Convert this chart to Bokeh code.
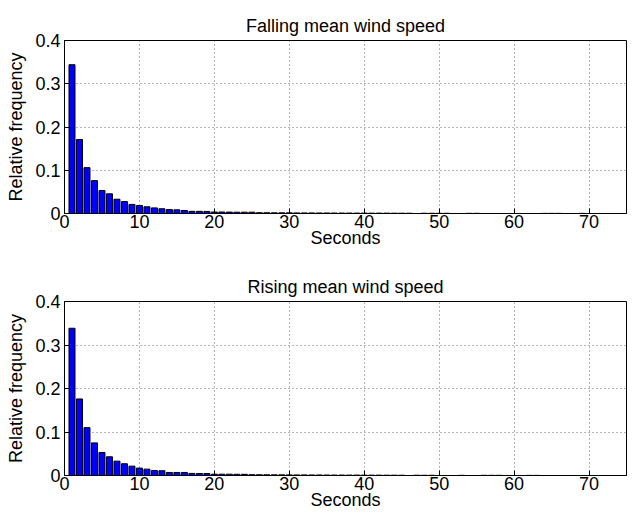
from bokeh.plotting import figure
from bokeh.layouts import column
from bokeh.models import FixedTicker, Range1d
from bokeh.embed import file_html
from bokeh.resources import INLINE

# ---- data ----
falling_seconds = list(range(1, 47)) + [48, 49, 50, 51, 54, 55, 64, 65, 66, 69]
falling_freq = [0.344, 0.171, 0.106, 0.076, 0.053, 0.0455, 0.033, 0.0275, 0.021, 0.0185,
                0.0155, 0.013, 0.011, 0.009, 0.0085, 0.007, 0.005, 0.005, 0.0048, 0.0035,
                0.0035, 0.0032, 0.003, 0.003, 0.003, 0.0018, 0.0017, 0.0016, 0.0015, 0.0015,
                0.0014, 0.0013, 0.0013, 0.0012, 0.0012, 0.0011, 0.001, 0.001, 0.0009, 0.0009,
                0.0008, 0.0008, 0.0008, 0.0007, 0.0007, 0.0006,
                0.0006, 0.0005, 0.0005, 0.0005, 0.0004, 0.0004, 0.0003, 0.0003, 0.0003, 0.0003]

rising_seconds = list(range(1, 46)) + [47, 48, 49, 53, 56, 57, 58, 62, 63]
rising_freq = [0.3385, 0.176, 0.110, 0.075, 0.053, 0.043, 0.033, 0.027, 0.0215, 0.017,
               0.0146, 0.0115, 0.011, 0.007, 0.007, 0.007, 0.0048, 0.0046, 0.0045, 0.003,
               0.003, 0.003, 0.0028, 0.0027, 0.0018, 0.0017, 0.0016, 0.0015, 0.0015, 0.0014,
               0.0013, 0.0013, 0.0012, 0.0012, 0.0011, 0.001, 0.001, 0.0009, 0.0009, 0.0008,
               0.0008, 0.0008, 0.0007, 0.0007, 0.0006,
               0.0006, 0.0005, 0.0005, 0.0004, 0.0004, 0.0004, 0.0004, 0.0003, 0.0003]

x_ticks = [0, 10, 20, 30, 40, 50, 60, 70]
y_ticks = [0, 0.1, 0.2, 0.3, 0.4]
y_tick_labels = ["0", "0.1", "0.2", "0.3", "0.4"]
titles = ["Falling mean wind speed", "Rising mean wind speed"]
x_label = "Seconds"
y_label = "Relative frequency"

FONT = "Liberation Sans"
FS = "18px"


def make_panel(title, xs, ys, border_top, frame_h, border_bottom):
    p = figure(frame_width=562, frame_height=frame_h,
               x_range=Range1d(0, 75), y_range=Range1d(0, 0.4),
               output_backend="svg", toolbar_location=None,
               min_border_left=64, min_border_right=5,
               min_border_top=border_top, min_border_bottom=border_bottom)
    p.vbar(x=xs, top=ys, width=0.8, fill_color="#0000FF", line_color="black", line_width=1)

    p.title.text = title
    p.title.align = "center"
    p.title.text_font = FONT
    p.title.text_font_size = FS
    p.title.text_font_style = "normal"
    p.title.text_color = "black"

    p.xaxis.ticker = FixedTicker(ticks=x_ticks)
    p.yaxis.ticker = FixedTicker(ticks=y_ticks)
    p.yaxis.major_label_overrides = {t: l for t, l in zip(y_ticks, y_tick_labels)}
    p.xaxis.axis_label = x_label
    p.yaxis.axis_label = y_label
    for ax in (p.xaxis, p.yaxis):
        ax.major_tick_in = 5
        ax.major_tick_out = 0
        ax.minor_tick_in = 0
        ax.minor_tick_out = 0
        ax.axis_line_color = "black"
        ax.major_tick_line_color = "black"
        ax.major_label_text_font = FONT
        ax.major_label_text_font_size = FS
        ax.major_label_text_color = "black"
        ax.axis_label_text_font = FONT
        ax.axis_label_text_font_size = FS
        ax.axis_label_text_font_style = "normal"
        ax.axis_label_text_color = "black"
    p.xaxis.major_label_standoff = 1
    p.xaxis.axis_label_standoff = -3
    p.yaxis.major_label_standoff = 4
    p.yaxis.axis_label_standoff = 6

    for g in (p.xgrid, p.ygrid):
        g.grid_line_color = "black"
        g.grid_line_alpha = 0.6
        g.grid_line_dash = "1 3"
        g.grid_line_width = 1
    p.xgrid.ticker = FixedTicker(ticks=x_ticks)
    p.ygrid.ticker = FixedTicker(ticks=y_ticks)

    p.outline_line_color = "black"
    p.background_fill_color = "white"
    p.border_fill_color = "white"
    return p


p1 = make_panel(titles[0], falling_seconds, falling_freq, 40, 173, 47)
p2 = make_panel(titles[1], rising_seconds, rising_freq, 41, 174, 40)

layout = column(p1, p2, spacing=0)
open("out.html", "w").write(file_html(layout, INLINE))
